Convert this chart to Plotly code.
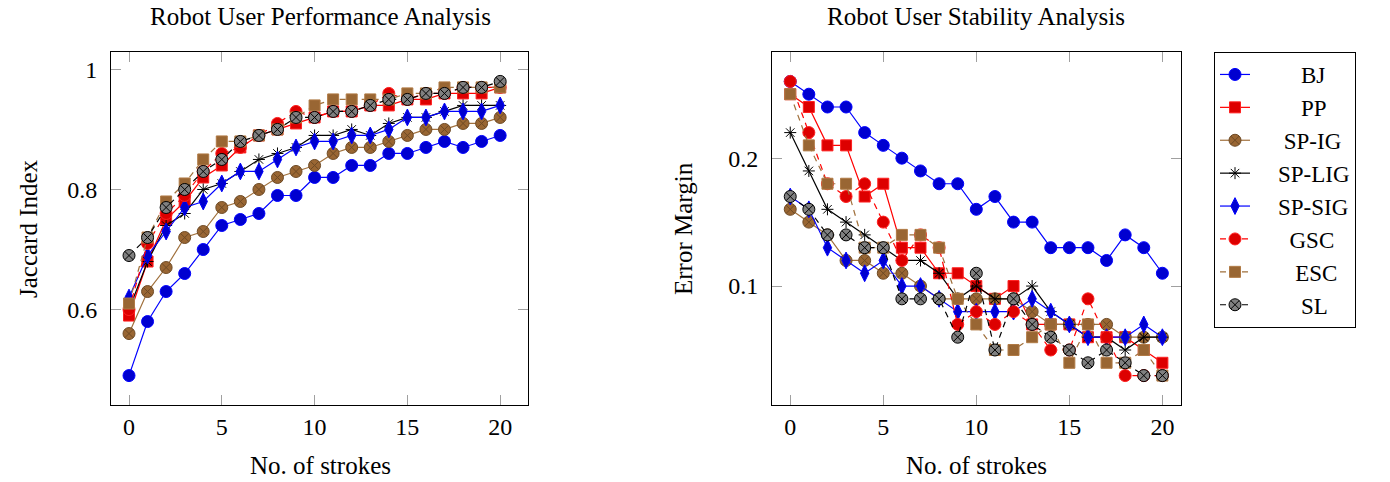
import plotly.graph_objects as go

strokes = list(range(21))
series_names = ["BJ", "PP", "SP-IG", "SP-LIG", "SP-SIG", "GSC", "ESC", "SL"]

# Jaccard Index (left)
jac_BJ     = [0.49,0.58,0.63,0.66,0.70,0.74,0.75,0.76,0.79,0.79,0.82,0.82,0.84,0.84,0.86,0.86,0.87,0.88,0.87,0.88,0.89]
jac_PP     = [0.59,0.68,0.75,0.78,0.82,0.84,0.87,0.89,0.90,0.91,0.92,0.93,0.93,0.94,0.94,0.95,0.95,0.96,0.96,0.96,0.97]
jac_SPIG   = [0.56,0.63,0.67,0.72,0.73,0.77,0.78,0.80,0.82,0.83,0.84,0.86,0.87,0.87,0.88,0.89,0.90,0.90,0.91,0.91,0.92]
jac_SPLIG  = [0.60,0.68,0.74,0.76,0.80,0.81,0.83,0.85,0.86,0.87,0.89,0.89,0.90,0.89,0.91,0.92,0.92,0.93,0.94,0.94,0.94]
jac_SPSIG  = [0.62,0.69,0.73,0.77,0.78,0.81,0.83,0.83,0.85,0.87,0.88,0.88,0.89,0.89,0.90,0.92,0.92,0.93,0.93,0.93,0.94]
jac_GSC    = [0.60,0.71,0.76,0.79,0.83,0.86,0.87,0.89,0.91,0.93,0.92,0.93,0.93,0.94,0.96,0.95,0.96,0.96,0.97,0.97,0.97]
jac_ESC    = [0.61,0.72,0.78,0.81,0.85,0.88,0.88,0.89,0.90,0.92,0.94,0.95,0.95,0.95,0.95,0.96,0.96,0.97,0.97,0.97,0.97]
jac_SL     = [0.69,0.72,0.77,0.80,0.83,0.85,0.88,0.89,0.90,0.92,0.92,0.93,0.93,0.94,0.95,0.95,0.96,0.96,0.97,0.97,0.98]

# Error Margin (right)
err_BJ     = [0.26,0.25,0.24,0.24,0.22,0.21,0.20,0.19,0.18,0.18,0.16,0.17,0.15,0.15,0.13,0.13,0.13,0.12,0.14,0.13,0.11]
err_PP     = [0.25,0.24,0.21,0.21,0.17,0.18,0.13,0.13,0.11,0.11,0.10,0.09,0.10,0.07,0.07,0.07,0.06,0.06,0.06,0.05,0.04]
err_SPIG   = [0.16,0.15,0.14,0.12,0.12,0.11,0.11,0.10,0.09,0.09,0.09,0.09,0.09,0.08,0.07,0.07,0.07,0.07,0.06,0.06,0.06]
err_SPLIG  = [0.22,0.19,0.16,0.15,0.14,0.13,0.12,0.12,0.11,0.09,0.10,0.09,0.09,0.10,0.08,0.07,0.06,0.06,0.05,0.06,0.06]
err_SPSIG  = [0.17,0.16,0.13,0.12,0.11,0.12,0.10,0.10,0.09,0.08,0.08,0.08,0.08,0.09,0.08,0.07,0.06,0.06,0.06,0.07,0.06]
err_GSC    = [0.26,0.22,0.18,0.17,0.18,0.15,0.12,0.14,0.13,0.07,0.08,0.07,0.08,0.07,0.05,0.05,0.09,0.06,0.03,0.03,0.03]
err_ESC    = [0.25,0.21,0.18,0.18,0.13,0.13,0.14,0.14,0.13,0.09,0.07,0.05,0.05,0.06,0.07,0.04,0.07,0.04,0.04,0.05,0.03]
err_SL     = [0.17,0.16,0.14,0.14,0.13,0.13,0.09,0.09,0.09,0.06,0.11,0.05,0.09,0.07,0.06,0.05,0.04,0.05,0.04,0.03,0.03]

x_ticks = [0, 5, 10, 15, 20]
left_yticks = [0.6, 0.8, 1.0]
left_yticktext = ["0.6", "0.8", "1"]
right_yticks = [0.1, 0.2]
right_yticktext = ["0.1", "0.2"]

jac = [jac_BJ, jac_PP, jac_SPIG, jac_SPLIG, jac_SPSIG, jac_GSC, jac_ESC, jac_SL]
err = [err_BJ, err_PP, err_SPIG, err_SPLIG, err_SPSIG, err_GSC, err_ESC, err_SL]

# leading non-breaking spaces so the legend labels sit centred like the original
legend_pad = {"BJ": 8, "PP": 8, "SP-IG": 5, "SP-LIG": 4, "SP-SIG": 4, "GSC": 6, "ESC": 7, "SL": 8}

styles = {
    "BJ":     dict(lc="#0000ff", dash="solid", sym="circle", fill="#0000d0", ml="#0000ff", size=12),
    "PP":     dict(lc="#ff0000", dash="solid", sym="square", fill="#dd0000", ml="#ff2020", size=11),
    "SP-IG":  dict(lc="#a0703c", dash="solid", sym="circle-x", fill="#996633", ml="#6e4a25", size=12),
    "SP-LIG": dict(lc="#000000", dash="solid", sym="asterisk-open", fill="#000000", ml="#000000", size=10),
    "SP-SIG": dict(lc="#0000ff", dash="solid", sym="diamond-tall", fill="#0000d0", ml="#0000ff", size=12),
    "GSC":    dict(lc="#ff0000", dash="6px,5px", sym="circle", fill="#dd0000", ml="#ff2020", size=12),
    "ESC":    dict(lc="#a0703c", dash="6px,5px", sym="square", fill="#996633", ml="#b07a45", size=11),
    "SL":     dict(lc="#000000", dash="6px,5px", sym="circle-x", fill="#808080", ml="#000000", size=12),
}

FONT = "Liberation Serif"
FS = 25

fig = go.Figure()

for i, name in enumerate(series_names):
    s = styles[name]
    label = "\u00a0" * legend_pad[name] + name
    for xa, ya, vals, show in (("x", "y", jac[i], False), ("x2", "y2", err[i], True)):
        fig.add_trace(go.Scatter(
            x=strokes, y=vals, xaxis=xa, yaxis=ya, name=label, legendgroup=name,
            showlegend=show, mode="lines+markers",
            line=dict(color=s["lc"], width=1.2, dash=s["dash"]),
            marker=dict(symbol=s["sym"], size=s["size"], color=s["fill"],
                        line=dict(color=s["ml"], width=1)),
        ))

ax_common = dict(showline=True, linecolor="black", linewidth=1, mirror="allticks",
                 ticks="inside", ticklen=10, tickcolor="#a0a0a0", tickwidth=1,
                 showgrid=False, zeroline=False,
                 tickfont=dict(family=FONT, size=24, color="black"))

ann_font = dict(family=FONT, size=FS, color="black")

def ann(text, x, y, angle=0):
    return dict(text=text, x=x/1390, y=1-y/482, xref="paper", yref="paper",
                xanchor="center", yanchor="middle", showarrow=False,
                textangle=angle, font=ann_font)

fig.update_layout(
    width=1390, height=482,
    margin=dict(l=0, r=0, t=0, b=0),
    paper_bgcolor="white", plot_bgcolor="white",
    font=dict(family=FONT, size=FS, color="black"),
    xaxis=dict(domain=[111/1390, 528/1390], range=[-0.97, 21.5], tickvals=x_ticks, anchor="y", **ax_common),
    yaxis=dict(domain=[1-405/482, 1-52/482], range=[0.441, 1.029], tickvals=left_yticks,
               ticktext=left_yticktext, anchor="x", ticklabelstandoff=8, **ax_common),
    xaxis2=dict(domain=[772/1390, 1181/1390], range=[-0.98, 21.0], tickvals=x_ticks, anchor="y2", **ax_common),
    yaxis2=dict(domain=[1-405/482, 1-52/482], range=[0.007, 0.283], tickvals=right_yticks,
                ticktext=right_yticktext, anchor="x2", ticklabelstandoff=8, **ax_common),
    legend=dict(x=1214/1390, y=1-52/482, xanchor="left", yanchor="top",
                bordercolor="black", borderwidth=1, bgcolor="white",
                font=dict(family=FONT, size=23, color="black"), tracegroupgap=0),
    annotations=[
        ann("Robot User Performance Analysis", 320, 17),
        ann("Robot User Stability Analysis", 976, 17),
        ann("No. of strokes", 320, 465),
        ann("No. of strokes", 976, 465),
        ann("Jaccard Index", 28, 229, -90),
        ann("Error Margin", 683, 229, -90),
    ],
)

fig.write_html("out.html")
